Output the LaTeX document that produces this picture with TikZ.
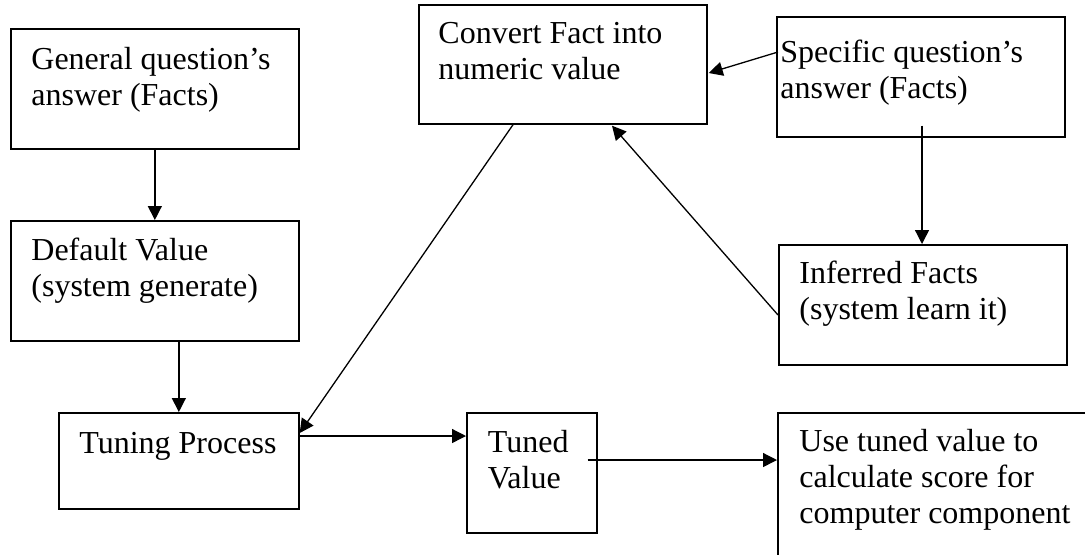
\documentclass[tikz,border=0pt]{standalone}
\usepackage{fontspec}
\setmainfont{Liberation Serif}
\usetikzlibrary{arrows.meta,calc}

\tikzset{
  box/.style={draw, line width=0.85pt, anchor=north west, inner sep=0pt},
  txt/.style={anchor=north west, inner sep=0pt, align=left,
              font=\fontsize{16}{18}\selectfont},
  arr/.style={-{Triangle[length=7pt,width=7pt]}, line width=0.65pt}
}

\begin{document}
\begin{tikzpicture}[x=0.5pt, y=-0.5pt]
  % page frame
  \useasboundingbox (0,0) rectangle (1085,554);
  \fill[white] (0,0) rectangle (1085,554);
  \clip (0,0) rectangle (1085,554);

  % boxes
  \node[box, minimum width=144pt, minimum height=60pt]   (gen)  at (10,28)   {};
  \node[box, minimum width=144pt, minimum height=60pt]   (def)  at (10,220)  {};
  \node[box, minimum width=120pt, minimum height=48pt]   (tun)  at (58,412)  {};
  \node[box, minimum width=65pt,  minimum height=60pt]   (tnd)  at (466,412) {};
  \node[box, minimum width=144pt, minimum height=59.5pt] (conv) at (418,4)   {};
  \node[box, minimum width=144pt, minimum height=60pt]   (spec) at (776,16)  {};
  \node[box, minimum width=144pt, minimum height=60pt]   (inf)  at (778,244) {};
  \node[box, minimum width=200pt, minimum height=100pt]  (use)  at (777,412) {};

  % labels
  \node[txt] (genT)  at ($(gen.north west)+(21,15.5)$)  {\strut General question’s\\answer (Facts)};
  \node[txt] (defT)  at ($(def.north west)+(21,14.8)$)  {\strut Default Value\\(system generate)};
  \node[txt] (tunT)  at ($(tun.north west)+(21,15.8)$)  {\strut Tuning Process};
  \node[txt] (tndT)  at ($(tnd.north west)+(21.5,14.8)$) {\strut Tuned\\Value};
  \node[txt] (convT) at ($(conv.north west)+(20,13.8)$) {\strut Convert Fact into\\numeric value};
  \node[txt] (specT) at ($(spec.north west)+(4,20.5)$)  {\strut Specific question’s\\answer (Facts)};
  \node[txt] (infT)  at ($(inf.north west)+(21,13.8)$)  {\strut Inferred Facts\\(system learn it)};
  \node[txt] (useT)  at ($(use.north west)+(22,13.8)$)  {\strut Use tuned value to\\calculate score for\\computer component};

  % connectors
  \draw[arr] (gen.south) -- (def.south |- def.north);
  \draw[arr] (def.south -| tun.north) -- (tun.north);
  \draw[arr] ($(conv.south west)+(95,0)$) -- ($(tun.north east)+(0,21)$);
  \draw[arr] ($(inf.north west)+(0,71)$) -- ($(conv.south west)+(194,1)$);
  \draw[arr] ($(spec.north west)+(2,36)$) -- ($(conv.north east)+(1,69)$);
  \draw[arr] ($(spec.south west)+(146,-12)$) -- ($(inf.north west)+(144,0)$);
  \draw[arr] ($(tun.north east)+(0,24)$) -- ($(tnd.north west)+(0,24)$);
  \draw[arr] ($(tnd.north east)+(-10,48)$) -- ($(use.north west)+(0,48)$);
\end{tikzpicture}
\end{document}
